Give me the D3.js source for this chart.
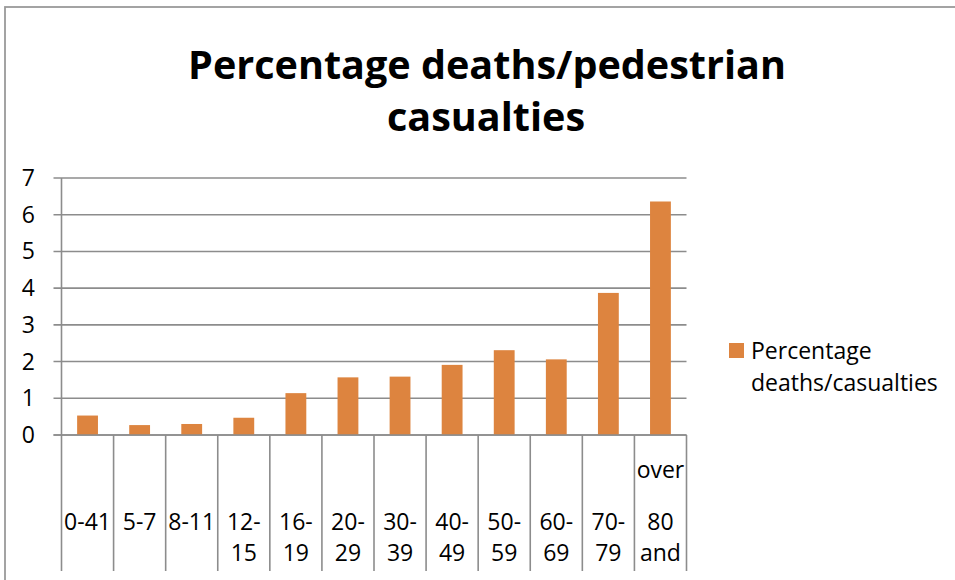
<!DOCTYPE html>
<html>
<head>
<meta charset="utf-8">
<script src="https://cdn.jsdelivr.net/npm/d3@7"></script>
<style>
  html, body { margin: 0; padding: 0; background: #fff; }
  svg { display: block; font-family: "Open Sans", "DejaVu Sans", sans-serif; }
</style>
</head>
<body>
<svg id="chart" width="955" height="580"></svg>
<script>
// ---- data ----
const categories = ["0-41", "5-7", "8-11", "12-15", "16-19", "20-29", "30-39", "40-49", "50-59", "60-69", "70-79", "80 and over"];
const labelLines = [["0-41"], ["5-7"], ["8-11"], ["12-", "15"], ["16-", "19"], ["20-", "29"], ["30-", "39"], ["40-", "49"], ["50-", "59"], ["60-", "69"], ["70-", "79"], ["80", "and", "over"]];
const values = [0.53, 0.27, 0.30, 0.47, 1.14, 1.57, 1.59, 1.91, 2.31, 2.06, 3.87, 6.36];
const yTicks = [0, 1, 2, 3, 4, 5, 6, 7];
const titleLines = ["Percentage deaths/pedestrian", "casualties"];
const seriesName = ["Percentage", "deaths/casualties"];

// ---- layout ----
const svg = d3.select("#chart");
const plot = { left: 61.5, right: 686.5, top: 178, bottom: 435 };
const barColor = "#DD843F";
const gridColor = "#8C8C8C";
const textColor = "#000";

// chart frame (left and top edges visible; right side runs off the picture)
svg.append("rect").attr("x", 5).attr("y", 7).attr("width", 1000).attr("height", 600)
  .attr("fill", "#fff").attr("stroke", "#9A9A9A").attr("stroke-width", 1.8);

// scales
const xCat = d3.scaleBand().domain(categories).range([plot.left, plot.right]).padding(0);
const xBar = d3.scaleBand().domain(categories).range([plot.left, plot.right]).paddingInner(0.6).paddingOuter(0.3);
const y = d3.scaleLinear().domain([0, 7]).range([plot.bottom, plot.top]);

// horizontal gridlines (extend left as tick marks)
svg.append("g").selectAll("line").data(yTicks).join("line")
  .attr("x1", plot.left - 8).attr("x2", plot.right)
  .attr("y1", d => y(d)).attr("y2", d => y(d))
  .attr("stroke", gridColor).attr("stroke-width", 1.6);

// y axis line
svg.append("line").attr("x1", plot.left).attr("x2", plot.left)
  .attr("y1", y(7)).attr("y2", y(0)).attr("stroke", gridColor).attr("stroke-width", 1.6);

// y tick labels
svg.append("g").selectAll("text").data(yTicks).join("text")
  .attr("x", 35).attr("y", d => y(d)).attr("dy", "0.35em")
  .attr("text-anchor", "end").attr("font-size", 23).attr("fill", textColor)
  .text(d => d);

// category boundary lines below the axis
const bounds = categories.map(c => xCat(c)).concat([plot.right]);
svg.append("g").selectAll("line").data(bounds).join("line")
  .attr("x1", d => d).attr("x2", d => d)
  .attr("y1", plot.bottom).attr("y2", 571)
  .attr("stroke", gridColor).attr("stroke-width", 1.6);

// bars
svg.append("g").selectAll("rect").data(values).join("rect")
  .attr("x", (d, i) => xBar(categories[i]))
  .attr("width", xBar.bandwidth())
  .attr("y", d => y(d))
  .attr("height", d => y(0) - y(d))
  .attr("fill", barColor);

// x axis baseline (on top)
svg.append("line").attr("x1", plot.left - 8).attr("x2", plot.right)
  .attr("y1", y(0)).attr("y2", y(0)).attr("stroke", gridColor).attr("stroke-width", 1.6);

// category labels
const lineY = [522, 553, 470];
const lab = svg.append("g");
labelLines.forEach((lines, i) => {
  const cx = xCat(categories[i]) + xCat.bandwidth() / 2;
  lines.forEach((t, j) => {
    lab.append("text").attr("x", cx).attr("y", lineY[j]).attr("dy", "0.35em")
      .attr("text-anchor", "middle").attr("font-size", 23).attr("fill", textColor).text(t);
  });
});

// title
const titleG = svg.append("g");
const t1 = titleG.append("text").attr("x", 487).attr("y", 79).attr("text-anchor", "middle")
  .attr("font-weight", "bold").attr("font-size", 44).attr("fill", textColor).text(titleLines[0]);
const w1 = t1.node().getComputedTextLength();
const fs = 44 * 598 / w1;
t1.attr("font-size", fs);
titleG.append("text").attr("x", 486).attr("y", 131).attr("text-anchor", "middle")
  .attr("font-weight", "bold").attr("font-size", fs).attr("fill", textColor).text(titleLines[1]);

// legend
svg.append("rect").attr("x", 729).attr("y", 343).attr("width", 15).attr("height", 15).attr("fill", barColor);
svg.append("g").selectAll("text").data(seriesName).join("text")
  .attr("x", 751).attr("y", (d, i) => 351 + i * 32).attr("dy", "0.35em")
  .attr("font-size", 23).attr("fill", textColor).text(d => d);
</script>
</body>
</html>
